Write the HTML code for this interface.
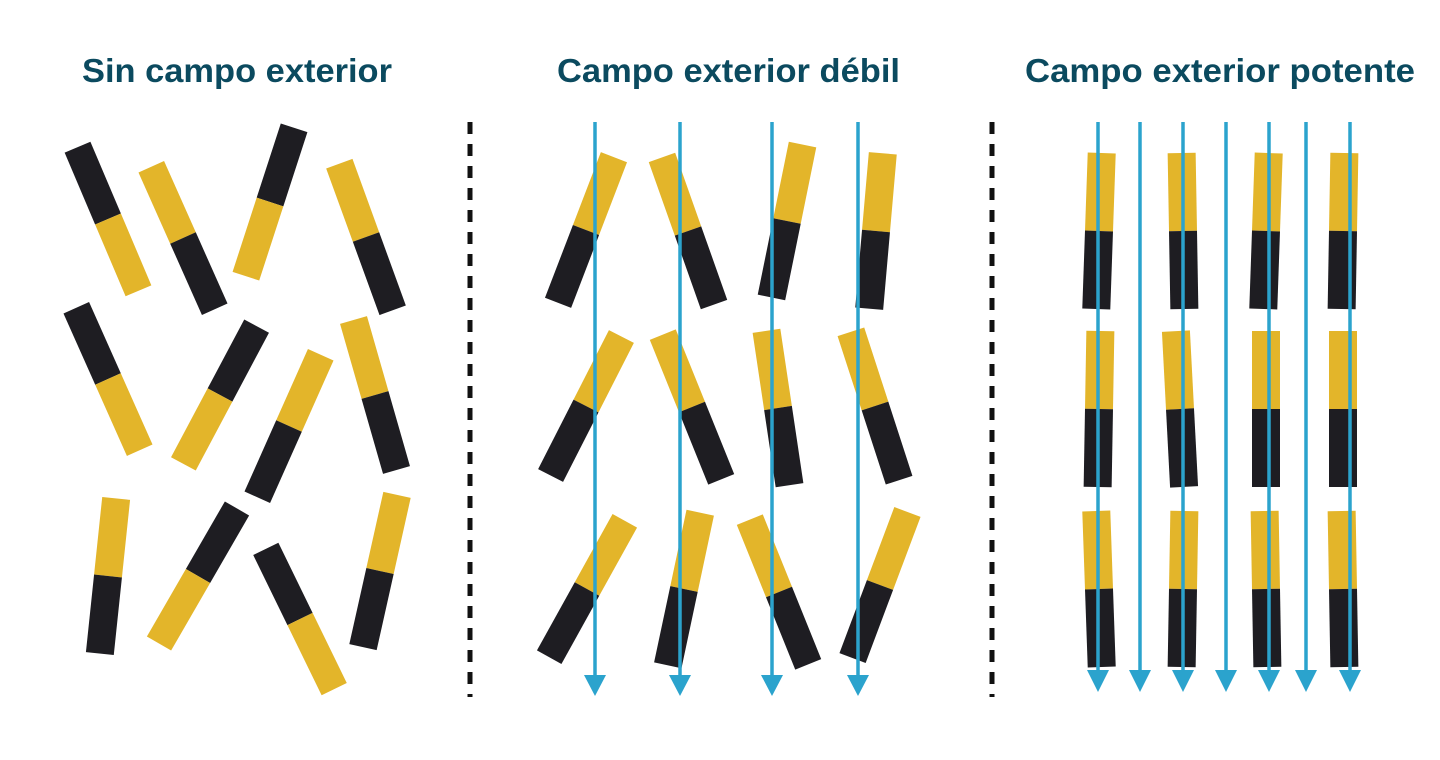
<!DOCTYPE html>
<html><head><meta charset="utf-8"><style>
html,body{margin:0;padding:0;background:#fff;}
svg{display:block;}
text{font-family:"Liberation Sans",sans-serif;font-weight:bold;font-size:33px;fill:#0b4a5f;}
</style></head><body>
<svg width="1440" height="760" viewBox="0 0 1440 760">
<defs>
<g id="my"><rect x="-14" y="-78" width="28" height="78" fill="#e3b52a"/><rect x="-14" y="0" width="28" height="78" fill="#1e1d22"/></g>
<g id="md"><rect x="-14" y="-78" width="28" height="78" fill="#1e1d22"/><rect x="-14" y="0" width="28" height="78" fill="#e3b52a"/></g>
</defs>
<text x="82" y="82" textLength="310" lengthAdjust="spacingAndGlyphs">Sin campo exterior</text>
<text x="557" y="82" textLength="343" lengthAdjust="spacingAndGlyphs">Campo exterior débil</text>
<text x="1025" y="82" textLength="390" lengthAdjust="spacingAndGlyphs">Campo exterior potente</text>
<line x1="470" y1="122" x2="470" y2="697" stroke="#111" stroke-width="5" stroke-dasharray="12,10"/>
<line x1="992" y1="122" x2="992" y2="697" stroke="#111" stroke-width="5" stroke-dasharray="12,10"/>
<!-- left -->
<use href="#md" transform="translate(108,219) rotate(-23)"/>
<use href="#my" transform="translate(183,238) rotate(-24)"/>
<use href="#md" transform="translate(270,202) rotate(18)"/>
<use href="#my" transform="translate(366,237) rotate(-20)"/>
<use href="#md" transform="translate(108,379) rotate(-24)"/>
<use href="#md" transform="translate(220,395) rotate(28)"/>
<use href="#my" transform="translate(289,426) rotate(24)"/>
<use href="#my" transform="translate(375,395) rotate(-16)"/>
<use href="#my" transform="translate(108,576) rotate(6)"/>
<use href="#md" transform="translate(198,576) rotate(30)"/>
<use href="#md" transform="translate(300,619) rotate(-26)"/>
<use href="#my" transform="translate(380,571) rotate(12.6)"/>
<!-- middle -->
<use href="#my" transform="translate(586,230) rotate(21)"/>
<use href="#my" transform="translate(688,231) rotate(-19.5)"/>
<use href="#my" transform="translate(787,221) rotate(11.5)"/>
<use href="#my" transform="translate(876,231) rotate(5)"/>
<use href="#my" transform="translate(586,406) rotate(27)"/>
<use href="#my" transform="translate(692,407) rotate(-22)"/>
<use href="#my" transform="translate(778,408) rotate(-8.5)"/>
<use href="#my" transform="translate(875,406) rotate(-18)"/>
<use href="#my" transform="translate(587,589) rotate(29)"/>
<use href="#my" transform="translate(684,589) rotate(12)"/>
<use href="#my" transform="translate(779,592) rotate(-22)"/>
<use href="#my" transform="translate(880,585) rotate(20.6)"/>
<!-- right -->
<use href="#my" transform="translate(1099,231) rotate(2)"/>
<use href="#my" transform="translate(1183,231) rotate(-1)"/>
<use href="#my" transform="translate(1266,231) rotate(2)"/>
<use href="#my" transform="translate(1343,231) rotate(1)"/>
<use href="#my" transform="translate(1099,409) rotate(1)"/>
<use href="#my" transform="translate(1180,409) rotate(-3)"/>
<use href="#my" transform="translate(1266,409) rotate(0)"/>
<use href="#my" transform="translate(1343,409) rotate(0)"/>
<use href="#my" transform="translate(1099,589) rotate(-2)"/>
<use href="#my" transform="translate(1183,589) rotate(1)"/>
<use href="#my" transform="translate(1266,589) rotate(-1)"/>
<use href="#my" transform="translate(1343,589) rotate(-1)"/>
<!-- arrows -->
<g stroke="#2ba3cd" stroke-width="3.5" fill="#2ba3cd">
<line x1="595" y1="122" x2="595" y2="680"/><polygon points="584,675 606,675 595,696" stroke="none"/>
<line x1="680" y1="122" x2="680" y2="680"/><polygon points="669,675 691,675 680,696" stroke="none"/>
<line x1="772" y1="122" x2="772" y2="680"/><polygon points="761,675 783,675 772,696" stroke="none"/>
<line x1="858" y1="122" x2="858" y2="680"/><polygon points="847,675 869,675 858,696" stroke="none"/>
<line x1="1098" y1="122" x2="1098" y2="675"/><polygon points="1087,670 1109,670 1098,692" stroke="none"/>
<line x1="1140" y1="122" x2="1140" y2="675"/><polygon points="1129,670 1151,670 1140,692" stroke="none"/>
<line x1="1183" y1="122" x2="1183" y2="675"/><polygon points="1172,670 1194,670 1183,692" stroke="none"/>
<line x1="1226" y1="122" x2="1226" y2="675"/><polygon points="1215,670 1237,670 1226,692" stroke="none"/>
<line x1="1269" y1="122" x2="1269" y2="675"/><polygon points="1258,670 1280,670 1269,692" stroke="none"/>
<line x1="1306" y1="122" x2="1306" y2="675"/><polygon points="1295,670 1317,670 1306,692" stroke="none"/>
<line x1="1350" y1="122" x2="1350" y2="675"/><polygon points="1339,670 1361,670 1350,692" stroke="none"/>
</g>
</svg>
</body></html>
